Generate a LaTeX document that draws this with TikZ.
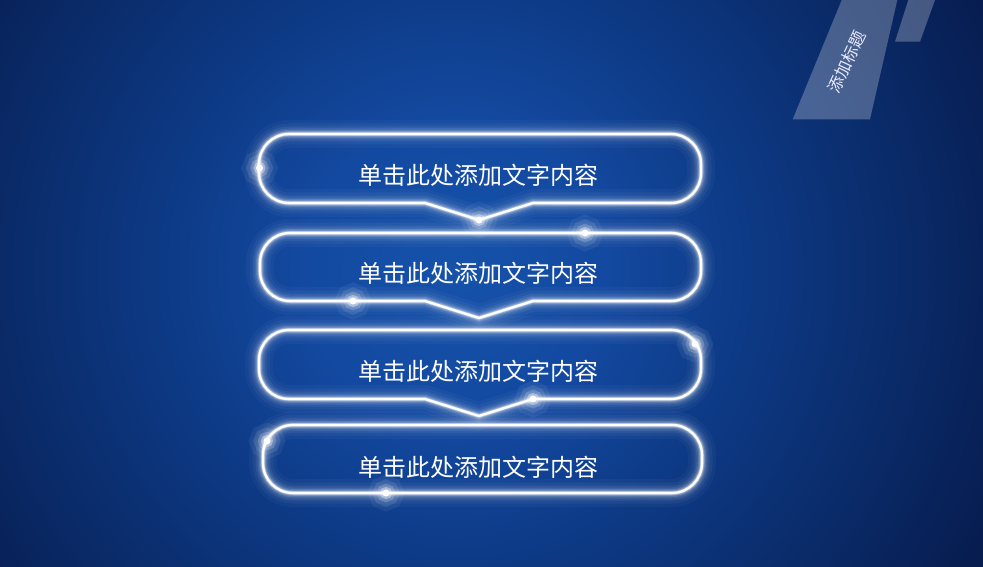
\documentclass[tikz,border=0pt]{standalone}
\usepackage{fontspec}
\newfontfamily\cjk{Noto Sans CJK SC}
\definecolor{bgA}{HTML}{1652AA}
\definecolor{bgB}{HTML}{1349A0}
\definecolor{bgC}{HTML}{0D3984}
\definecolor{bgD}{HTML}{0A2B69}
\definecolor{bgE}{HTML}{071C4F}
\definecolor{bgF}{HTML}{051540}
\pgfdeclareradialshading{bgrad}{\pgfpoint{0bp}{0bp}}{color(0bp)=(bgA); color(5.4bp)=(bgB); color(10.7bp)=(bgC); color(16bp)=(bgD); color(21.4bp)=(bgE); color(25bp)=(bgF); color(50bp)=(bgF)}
\tikzset{
  glowline/.style={line join=round, line cap=round,
    preaction={draw=white, draw opacity=0.03, line width=28pt},
    preaction={draw=white, draw opacity=0.045, line width=21pt},
    preaction={draw=white, draw opacity=0.065, line width=15pt},
    preaction={draw=white, draw opacity=0.09, line width=11pt},
    preaction={draw=white, draw opacity=0.13, line width=8pt},
    preaction={draw=white, draw opacity=0.22, line width=5.5pt},
    preaction={draw=white, draw opacity=0.4, line width=3.6pt},
    draw=white, line width=2.3pt},
  dotnode/.style={circle, fill=white, inner sep=0pt, minimum size=7pt,
    preaction={draw=white, draw opacity=0.06, line width=28pt},
    preaction={draw=white, draw opacity=0.10, line width=19pt},
    preaction={draw=white, draw opacity=0.18, line width=11pt},
    preaction={draw=white, draw opacity=0.35, line width=5pt}},
  boxtext/.style={text=white, font=\cjk\fontsize{24}{24}\selectfont, inner sep=0pt},
  slab/.style={fill=white, fill opacity=0.25}
}
\begin{document}
\begin{tikzpicture}[x=1pt,y=1pt]
\useasboundingbox (0,0) rectangle (983,-567);
\begin{scope}
  \clip (0,0) rectangle (983,-567);
  \shade[shading=bgrad] (455,-270) circle (700);
  % top-right slabs
  \fill[slab] (792.7,-119.3) -- (870,-119.3) -- (897.3,0) -- (841.7,0) -- cycle;
  \fill[slab] (895,-41.7) -- (920,-41.7) -- (935,0) -- (908.3,0) -- cycle;
\end{scope}
\node[rotate=65, text=white!92!blue, font=\cjk\fontsize{16.5}{16.5}\selectfont, inner sep=0pt] (title) at (846.7,-62) {添加标题};

% box 1
\path[glowline] (289,-134) -- (671,-134) arc[start angle=90,end angle=0,radius=30] -- (701,-173) arc[start angle=0,end angle=-90,radius=30] -- (533,-203) -- (479,-220) -- (425,-203) -- (289,-203) arc[start angle=270,end angle=180,radius=30] -- (259,-164) arc[start angle=180,end angle=90,radius=30] -- cycle;
% box 2
\path[glowline] (290,-233) -- (671,-233) arc[start angle=90,end angle=0,radius=30] -- (701,-271) arc[start angle=0,end angle=-90,radius=30] -- (533,-301) -- (479,-318) -- (425,-301) -- (290,-301) arc[start angle=270,end angle=180,radius=30] -- (260,-263) arc[start angle=180,end angle=90,radius=30] -- cycle;
% box 3
\path[glowline] (289,-330) -- (671,-330) arc[start angle=90,end angle=0,radius=30] -- (701,-369) arc[start angle=0,end angle=-90,radius=30] -- (533,-399) -- (479,-416) -- (425,-399) -- (289,-399) arc[start angle=270,end angle=180,radius=30] -- (259,-360) arc[start angle=180,end angle=90,radius=30] -- cycle;
% box 4
\path[glowline] (293,-425) -- (672,-425) arc[start angle=90,end angle=0,radius=30] -- (702,-463) arc[start angle=0,end angle=-90,radius=30] -- (293,-493) arc[start angle=270,end angle=180,radius=30] -- (263,-455) arc[start angle=180,end angle=90,radius=30] -- cycle;

\node[boxtext] (t1) at (478,-175) {单击此处添加文字内容};
\node[boxtext] (t2) at (478,-273) {单击此处添加文字内容};
\node[boxtext] (t3) at (478,-371) {单击此处添加文字内容};
\node[boxtext] (t4) at (478,-467) {单击此处添加文字内容};

\node[dotnode] (d1) at (259.5,-168) {};
\node[dotnode] (d2) at (479,-220) {};
\node[dotnode] (d3) at (585,-233) {};
\node[dotnode] (d4) at (353,-301) {};
\node[dotnode] (d5) at (695,-344) {};
\node[dotnode] (d6) at (533,-399) {};
\node[dotnode] (d7) at (267,-441) {};
\node[dotnode] (d8) at (386,-493) {};
\end{tikzpicture}
\end{document}
